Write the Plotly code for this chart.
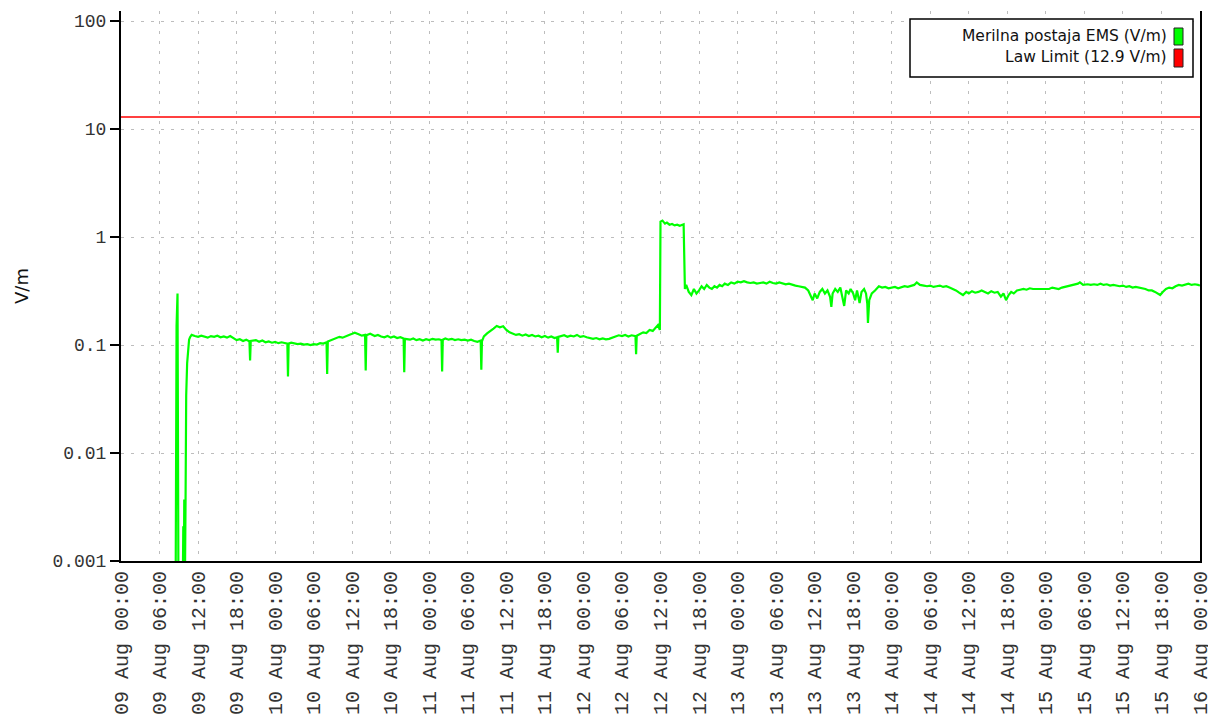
import pandas as pd
import plotly.graph_objects as go

# ---- data (hours after 09 Aug 00:00, field strength V/m) ----
hours = [
    8.50, 8.65, 8.80, 8.95, 9.60, 9.70, 9.78, 9.85, 9.95, 10.05, 10.15, 10.30, 10.45, 10.60, 10.75,
    11.0, 11.5, 12.0, 12.5, 13.0, 13.5, 14.0, 14.5, 15.0, 15.5, 16.0, 16.5, 17.0, 17.5, 18.0, 18.5,
    19.0, 19.5, 20.0, 20.1, 20.2, 21.0, 21.5, 22.0, 22.5, 23.0, 23.5, 24.0, 24.5, 25.0, 25.5, 25.9,
    26.0, 26.1, 26.5, 27.0, 27.5, 28.0, 28.5, 29.0, 29.5, 30.0, 30.5, 31.0, 31.5, 32.0, 32.1, 32.2,
    32.8, 33.3, 34.0, 34.5, 35.0, 35.5, 36.0, 36.4, 37.0, 37.5, 38.0, 38.1, 38.2, 38.8, 39.5, 40.0,
    40.5, 41.0, 41.5, 42.0, 42.5, 43.0, 43.5, 44.0, 44.1, 44.2, 45.0, 45.5, 46.0, 46.5, 47.0, 47.5,
    48.0, 48.5, 49.0, 49.5, 49.9, 50.0, 50.1, 50.5, 51.0, 51.5, 52.0, 52.5, 53.0, 53.5, 54.0, 54.5,
    55.0, 55.5, 56.0, 56.1, 56.2, 56.5, 57.0, 57.5, 58.0, 58.5, 59.0, 59.5, 60.0, 60.5, 61.0, 61.5,
    62.0, 62.5, 63.0, 63.5, 64.0, 64.5, 65.0, 65.5, 66.0, 66.5, 67.0, 67.5, 67.9, 68.0, 68.1, 68.5,
    69.0, 69.5, 70.0, 70.5, 71.0, 71.5, 72.0, 72.5, 73.0, 73.5, 74.0, 74.5, 75.0, 75.5, 76.0, 76.5,
    77.0, 77.5, 78.0, 78.5, 79.0, 79.5, 80.1, 80.2, 80.3, 80.8, 81.3, 81.8, 82.3, 82.8, 83.2, 83.6,
    83.9, 84.0, 84.3, 84.7, 85.0, 85.4, 85.8, 86.2, 86.6, 87.0, 87.6, 87.8, 88.0, 88.4, 88.8, 89.2,
    89.6, 90.0, 90.4, 90.8, 91.2, 91.6, 92.0, 92.4, 92.8, 93.2, 93.6, 94.0, 94.5, 95.0, 95.5, 96.0,
    96.5, 97.0, 97.5, 98.0, 98.5, 99.0, 99.5, 100.0, 100.5, 101.0, 101.5, 102.0, 102.5, 103.0, 103.5,
    104.0, 104.5, 105.0, 105.5, 106.0, 106.5, 107.0, 107.5, 107.7, 108.0, 108.4, 108.8, 109.2, 109.6,
    110.0, 110.4, 110.6, 110.8, 111.2, 111.6, 112.0, 112.3, 112.6, 112.9, 113.3, 113.6, 114.0, 114.3,
    114.6, 115.0, 115.3, 115.7, 116.0, 116.2, 116.3, 116.5, 116.9, 117.4, 118.0, 118.5, 119.0, 119.5,
    120.0, 120.5, 121.0, 121.5, 122.0, 122.5, 123.0, 123.5, 123.9, 124.4, 125.0, 125.5, 126.0, 126.5,
    127.0, 127.5, 128.0, 128.5, 129.0, 129.5, 130.0, 130.5, 131.1, 131.6, 132.0, 132.5, 133.0, 133.5,
    134.0, 134.5, 135.0, 135.5, 136.0, 136.5, 137.0, 137.4, 137.8, 138.2, 138.6, 139.0, 139.5, 140.0,
    140.5, 141.0, 141.5, 142.0, 142.5, 143.0, 143.5, 144.0, 144.5, 145.0, 145.5, 146.0, 146.5, 147.0,
    147.5, 148.0, 148.5, 149.0, 149.3, 149.8, 150.5, 151.0, 151.5, 152.0, 152.5, 153.0, 153.5, 154.0,
    154.5, 155.0, 155.5, 156.0, 156.5, 157.0, 157.5, 158.0, 158.5, 159.0, 159.5, 160.0, 160.5, 161.0,
    161.5, 161.8, 162.2, 162.7, 163.2, 163.7, 164.2, 164.7, 165.2, 165.7, 166.2, 166.7, 167.2, 167.7,
    168.0,
]
field_vm = [
    0.0004, 0.15, 0.30, 0.0004, 0.0004, 0.0021, 0.0005, 0.0037, 0.0006, 0.0036, 0.034, 0.068, 0.09, 0.112, 0.118,
    0.124, 0.121, 0.119, 0.122, 0.120, 0.117, 0.121, 0.119, 0.122, 0.118, 0.120, 0.117, 0.121, 0.115, 0.111, 0.113,
    0.109, 0.112, 0.108, 0.072, 0.109, 0.111, 0.107, 0.110, 0.106, 0.108, 0.105, 0.107, 0.104, 0.106, 0.104, 0.103,
    0.051, 0.103, 0.105, 0.104, 0.102, 0.103, 0.101, 0.102, 0.100, 0.102, 0.101, 0.104, 0.103, 0.106, 0.054, 0.108,
    0.112, 0.116, 0.119, 0.117, 0.121, 0.124, 0.127, 0.130, 0.126, 0.122, 0.124, 0.058, 0.123, 0.127, 0.121, 0.124,
    0.120, 0.118, 0.121, 0.117, 0.120, 0.116, 0.118, 0.115, 0.056, 0.114, 0.112, 0.115, 0.111, 0.113, 0.110, 0.113,
    0.111, 0.114, 0.112, 0.113, 0.111, 0.057, 0.112, 0.115, 0.112, 0.114, 0.111, 0.113, 0.111, 0.112, 0.110, 0.112,
    0.109, 0.107, 0.110, 0.059, 0.108, 0.120, 0.128, 0.136, 0.142, 0.150, 0.146, 0.149, 0.138, 0.131, 0.127, 0.124,
    0.126, 0.122, 0.125, 0.121, 0.124, 0.120, 0.122, 0.118, 0.121, 0.117, 0.120, 0.116, 0.118, 0.085, 0.119, 0.121,
    0.123, 0.119, 0.122, 0.120, 0.124, 0.119, 0.121, 0.118, 0.116, 0.114, 0.116, 0.113, 0.115, 0.113, 0.114, 0.117,
    0.120, 0.123, 0.121, 0.124, 0.120, 0.123, 0.121, 0.082, 0.122, 0.127, 0.131, 0.129, 0.138, 0.135, 0.145, 0.153,
    0.138, 1.39, 1.42, 1.33, 1.36, 1.30, 1.32, 1.28, 1.30, 1.27, 1.31, 0.33, 0.36, 0.31, 0.29, 0.33,
    0.30, 0.32, 0.35, 0.33, 0.36, 0.34, 0.33, 0.35, 0.34, 0.36, 0.35, 0.37, 0.36, 0.38, 0.37, 0.385,
    0.38, 0.39, 0.38, 0.375, 0.38, 0.37, 0.375, 0.38, 0.37, 0.385, 0.375, 0.37, 0.38, 0.37, 0.365,
    0.37, 0.36, 0.355, 0.35, 0.345, 0.34, 0.32, 0.28, 0.26, 0.30, 0.27, 0.31, 0.33, 0.30,
    0.32, 0.28, 0.225, 0.30, 0.33, 0.31, 0.34, 0.28, 0.23, 0.32, 0.30, 0.33, 0.30, 0.26,
    0.32, 0.245, 0.31, 0.33, 0.30, 0.24, 0.16, 0.26, 0.30, 0.32, 0.35, 0.34, 0.345, 0.335,
    0.34, 0.345, 0.335, 0.34, 0.35, 0.345, 0.355, 0.36, 0.38, 0.36, 0.355, 0.35, 0.355, 0.345,
    0.35, 0.355, 0.345, 0.35, 0.34, 0.33, 0.32, 0.305, 0.29, 0.31, 0.30, 0.315, 0.305, 0.31,
    0.32, 0.31, 0.30, 0.315, 0.305, 0.31, 0.28, 0.30, 0.26, 0.29, 0.31, 0.30, 0.32, 0.325,
    0.33, 0.325, 0.335, 0.33, 0.33, 0.335, 0.33, 0.335, 0.33, 0.34, 0.335, 0.33, 0.34, 0.345,
    0.355, 0.36, 0.365, 0.37, 0.38, 0.36, 0.365, 0.36, 0.365, 0.36, 0.37, 0.36, 0.365, 0.355,
    0.36, 0.355, 0.35, 0.355, 0.345, 0.35, 0.34, 0.345, 0.34, 0.335, 0.33, 0.32, 0.32, 0.31,
    0.30, 0.29, 0.31, 0.33, 0.34, 0.335, 0.35, 0.36, 0.355, 0.36, 0.37, 0.36, 0.365, 0.36,
    0.355,
]
law_limit = 12.9
series_name = "Merilna postaja EMS (V/m)"
limit_name = "Law Limit (12.9 V/m)"
y_tick_vals = [0.001, 0.01, 0.1, 1, 10, 100]
y_tick_text = ["0.001", "0.01", "0.1", "1", "10", "100"]
x_start = "2019-08-09 00:00"
x_end = "2019-08-16 00:00"

# ---- build ----
base = pd.Timestamp(x_start)
times = base + pd.to_timedelta(hours, unit="h")
x_ticks = pd.date_range(x_start, x_end, freq="6h")

W, H = 1208, 724
L, R, T, B = 121, 8, 11, 163
pw, ph = W - L - R, H - T - B


def px(x):  # page x -> paper
    return (x - L) / pw


def py(y):  # page y -> paper
    return (H - B - y) / ph


fig = go.Figure()
fig.add_trace(go.Scatter(x=times, y=field_vm, mode="lines", name=series_name,
                         line=dict(color="#00ff00", width=2.2), showlegend=False))
fig.add_trace(go.Scatter(x=[pd.Timestamp(x_start), pd.Timestamp(x_end)], y=[law_limit, law_limit],
                         mode="lines", name=limit_name, line=dict(color="#ff0000", width=1.5),
                         showlegend=False))

grid_dash = "3px,7px"
y_range = [-3, 2 + 10 / 108]
fig.update_layout(
    width=W, height=H,
    margin=dict(l=L, r=R, t=T, b=B, autoexpand=False),
    paper_bgcolor="white", plot_bgcolor="white",
    showlegend=False,
    xaxis=dict(
        type="date", range=[x_start, x_end], tickvals=list(x_ticks), tickformat="%d %b %H:%M",
        tickangle=-90, ticks="", showgrid=True, gridcolor="#bdbdbd", griddash=grid_dash, gridwidth=1,
        showline=True, linecolor="#000000", linewidth=2, zeroline=False, ticklabeloverflow="allow",
        tickfont=dict(family="Liberation Mono", size=20, color="#333333"),
    ),
    yaxis=dict(
        type="log", range=y_range, tickvals=y_tick_vals, ticktext=y_tick_text,
        ticks="outside", ticklen=9, tickwidth=2, tickcolor="#000000",
        showgrid=True, gridcolor="#bdbdbd", griddash=grid_dash, gridwidth=1,
        showline=True, linecolor="#000000", linewidth=2, mirror=True, zeroline=False,
        tickfont=dict(family="Liberation Mono", size=18, color="#333333"),
    ),
    yaxis2=dict(
        type="log", range=y_range, tickvals=y_tick_vals, overlaying="y", side="left",
        ticks="inside", ticklen=6, tickwidth=2, tickcolor="#000000", showticklabels=False,
        showgrid=False, showline=False, zeroline=False,
    ),
)

# y-axis title
fig.add_annotation(text="V/m", xref="paper", yref="paper", x=px(21), y=0.5, textangle=-90,
                   xanchor="center", yanchor="middle",
                   showarrow=False, font=dict(family="DejaVu Sans", size=18, color="#111111"))

# custom legend box (text right-aligned, swatch on the right)
fig.add_shape(type="rect", xref="paper", yref="paper", x0=px(910), x1=px(1193), y0=py(77), y1=py(19),
              fillcolor="white", line=dict(color="#000000", width=1.5), layer="above")
fig.add_shape(type="rect", xref="paper", yref="paper", x0=px(1174), x1=px(1183), y0=py(45), y1=py(28),
              fillcolor="#00ff00", line=dict(color="#222222", width=1), layer="above")
fig.add_shape(type="rect", xref="paper", yref="paper", x0=px(1174), x1=px(1183), y0=py(67), y1=py(49),
              fillcolor="#ff0000", line=dict(color="#222222", width=1), layer="above")
for name, yc in [(series_name, 36), (limit_name, 57)]:
    fig.add_annotation(text=name, xref="paper", yref="paper", x=px(1169), y=py(yc),
                       xanchor="right", yanchor="middle", showarrow=False,
                       font=dict(family="DejaVu Sans", size=15.5, color="#111111"))

fig.write_html("out.html", config={"displayModeBar": False},
               post_script="document.body.style.margin='0';document.body.style.overflow='hidden';")
